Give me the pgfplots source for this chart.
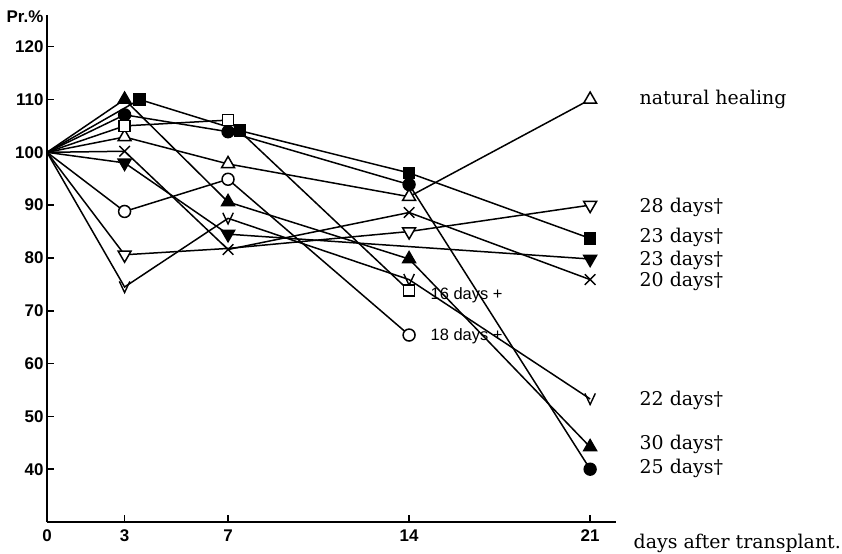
\documentclass[border=0pt]{standalone}
\usepackage{fontspec}
\setmainfont{DejaVu Serif}
\setsansfont{Liberation Sans}
\usepackage{pgfplots}
\pgfplotsset{compat=1.18}
\pgfdeclareplotmark{vee}{%
 \pgfpathmoveto{\pgfqpoint{-0.75\pgfplotmarksize}{0.8\pgfplotmarksize}}%
 \pgfpathlineto{\pgfqpoint{0pt}{-0.8\pgfplotmarksize}}%
 \pgfpathlineto{\pgfqpoint{0.75\pgfplotmarksize}{0.8\pgfplotmarksize}}%
 \pgfusepathqstroke}
\tikzset{
 lab/.style={anchor=west, font=\fontsize{19}{22}\selectfont},
 smalllab/.style={anchor=west, font=\sffamily\fontsize{16.5}{18}\selectfont},
}
\begin{document}
\begin{tikzpicture}
\path[use as bounding box] (-47bp,-32bp) rectangle (795bp,522bp);
\begin{axis}[
 at={(0,0)}, anchor=south west,
 scale only axis, width=569bp, height=507bp,
 xmin=0, xmax=22, ymin=30, ymax=126,
 axis lines*=left,
 axis line style={line width=2.2bp},
 xtick={0,3,7,14,21}, ytick={40,50,...,120},
 tick align=inside, major tick length=7bp,
 tick style={line width=1.6bp, black},
 ticklabel style={font=\sffamily\bfseries\fontsize{17}{19}\selectfont},
 xticklabel style={yshift=-4bp},
 /pgf/number format/assume math mode=true,
 clip=false,
 every axis plot/.append style={black, line width=1.5bp, mark options={solid, line width=1.4bp}},
]
% natural healing (open triangle)
\addplot[mark=triangle*, mark size=7.5, mark options={fill=white}, mark indices={2,3,4,5}]
 coordinates {(0,100)(3,102.9)(7,97.8)(14,91.6)(21,110)};
% 28 days (open down triangle)
\addplot[mark=triangle*, mark size=7.5, mark options={fill=white, rotate=180}, mark indices={2,4,5}]
 coordinates {(0,100)(3,80.6)(7,81.8)(14,85)(21,90)};
% 23 days (filled square)
\addplot[mark=square*, mark size=5.5, mark indices={2,3,4,5}]
 coordinates {(0,100)(3.58,110)(7.46,104.1)(14,96.1)(21,83.7)};
% 23 days (filled down triangle)
\addplot[mark=triangle*, mark size=7.5, mark options={rotate=180}, mark indices={2,3,4}]
 coordinates {(0,100)(3,98)(7,84.5)(21,79.8)};
% 20 days (x)
\addplot[mark=x, mark size=7.5, mark indices={2,3,4,5}]
 coordinates {(0,100)(3,100.2)(7,81.6)(14,88.6)(21,75.9)};
% 22 days (v)
\addplot[mark=vee, mark size=7, mark indices={2,3,4,5}]
 coordinates {(0,100)(3,74.5)(7,87.5)(14,75.9)(21,53.3)};
% 30 days (filled triangle)
\addplot[mark=triangle*, mark size=7.5, mark indices={2,3,4,5}]
 coordinates {(0,100)(3,110)(7,90.6)(14,79.8)(21,44.2)};
% 25 days (filled circle)
\addplot[mark=*, mark size=6, mark indices={2,3,4,5}]
 coordinates {(0,100)(3,107.1)(7,103.9)(14,93.9)(21,40)};
% 16 days (open square)
\addplot[mark=square*, mark size=5.5, mark options={fill=white}, mark indices={2,3,4}]
 coordinates {(0,100)(3,105)(7,106.1)(14,73.8)};
% 18 days (open circle)
\addplot[mark=*, mark size=6, mark options={fill=white}, mark indices={2,3,4}]
 coordinates {(0,100)(3,88.8)(7,94.9)(14,65.4)};

\node[lab] at (axis cs:22.78,110) {natural healing};
\node[lab] at (axis cs:22.78,89.6) {28 days†};
\node[lab] at (axis cs:22.78,83.9) {23 days†};
\node[lab] at (axis cs:22.78,79.6) {23 days†};
\node[lab] at (axis cs:22.78,75.5) {20 days†};
\node[lab] at (axis cs:22.78,53.0) {22 days†};
\node[lab] at (axis cs:22.78,44.6) {30 days†};
\node[lab] at (axis cs:22.78,40.2) {25 days†};
\node[lab] at (axis cs:22.55,26.0) {days after transplant.};
\node[smalllab] at (axis cs:14.7,72.9) {16 days +};
\node[smalllab] at (axis cs:14.7,65.1) {18 days +};
\node[font=\sffamily\bfseries\fontsize{17}{19}\selectfont] at ([xshift=-22bp,yshift=-2bp]rel axis cs:0,1) {Pr.\%};
\end{axis}
\end{tikzpicture}
\end{document}
